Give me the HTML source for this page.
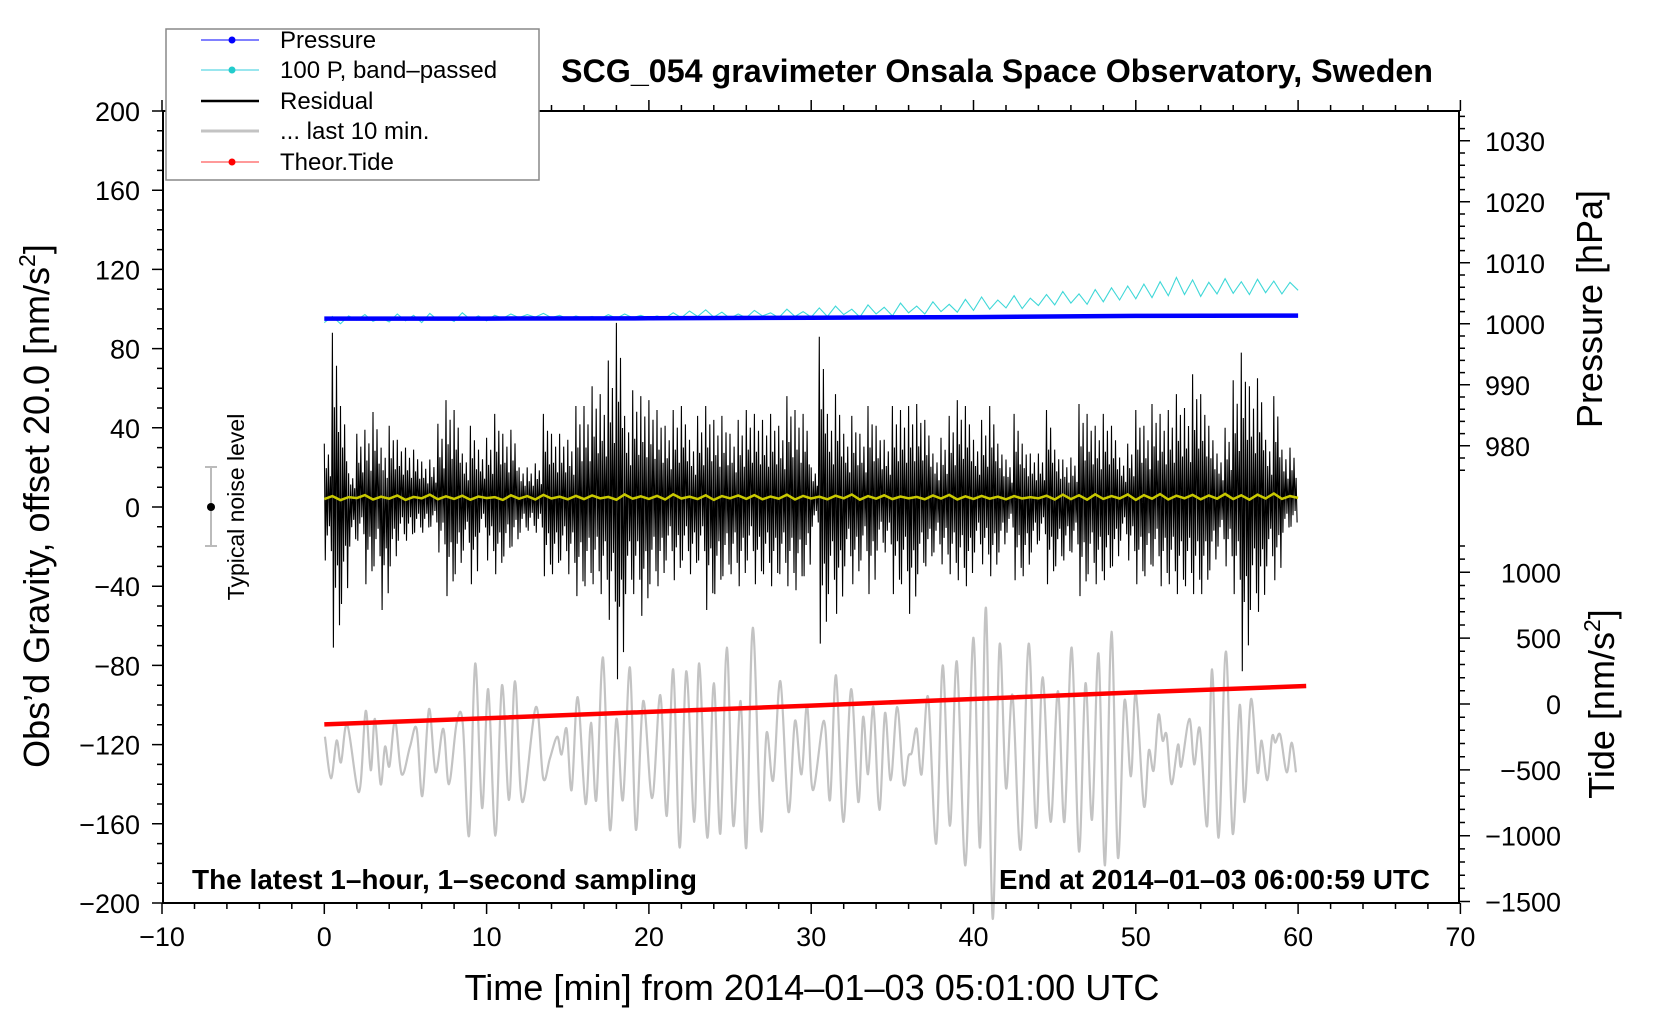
<!DOCTYPE html>
<html><head><meta charset="utf-8"><style>
html,body{margin:0;padding:0;background:#fff;}
svg{display:block;font-family:"Liberation Sans",sans-serif;}
</style></head><body>
<svg id="chart" width="1660" height="1020" viewBox="0 0 1660 1020" xmlns="http://www.w3.org/2000/svg">
<rect width="1660" height="1020" fill="#fff"/>
<g id="marks"></g>
<g id="axes"></g>
<text x="997" y="82" text-anchor="middle" font-size="32" font-weight="bold" textLength="872" lengthAdjust="spacingAndGlyphs">SCG_054 gravimeter Onsala Space Observatory, Sweden</text>
<text x="192" y="889" font-size="28" font-weight="bold" textLength="505" lengthAdjust="spacingAndGlyphs">The latest 1–hour, 1–second sampling</text>
<text x="1430" y="889" text-anchor="end" font-size="28" font-weight="bold" textLength="431" lengthAdjust="spacingAndGlyphs">End at 2014–01–03 06:00:59 UTC</text>
<text x="812" y="1000" text-anchor="middle" font-size="36" textLength="695" lengthAdjust="spacingAndGlyphs">Time [min] from 2014–01–03 05:01:00 UTC</text>
<text transform="translate(49,506) rotate(-90)" text-anchor="middle" font-size="36">Obs’d Gravity, offset 20.0 [nm/s<tspan font-size="23" dy="-14">2</tspan><tspan dy="14">]</tspan></text>
<text transform="translate(1602,309) rotate(-90)" text-anchor="middle" font-size="36">Pressure [hPa]</text>
<text transform="translate(1614,704) rotate(-90)" text-anchor="middle" font-size="36">Tide [nm/s<tspan font-size="23" dy="-14">2</tspan><tspan dy="14">]</tspan></text>
<g>
<line x1="211" y1="467" x2="211" y2="546" stroke="#bbb" stroke-width="2"/>
<line x1="205" y1="467" x2="217" y2="467" stroke="#bbb" stroke-width="2"/>
<line x1="205" y1="546" x2="217" y2="546" stroke="#bbb" stroke-width="2"/>
<circle cx="211" cy="507" r="4" fill="#000"/>
<text transform="translate(244,507) rotate(-90)" text-anchor="middle" font-size="23">Typical noise level</text>
</g>
<g>
<rect x="166" y="29" width="373" height="151" fill="#fff" stroke="#888" stroke-width="1.5"/>
<g><line x1="201" y1="40" x2="259" y2="40" stroke="#00f" stroke-width="1"/><circle cx="232" cy="40" r="3.5" fill="#00f"/><text x="280" y="48" font-size="24">Pressure</text></g>
<g><line x1="201" y1="70" x2="259" y2="70" stroke="#3cd" stroke-width="1"/><circle cx="232" cy="70" r="3.5" fill="#2cc"/><text x="280" y="78" font-size="24">100 P, band–passed</text></g>
<g><line x1="201" y1="101" x2="259" y2="101" stroke="#000" stroke-width="2.5"/><text x="280" y="109" font-size="24">Residual</text></g>
<g><line x1="201" y1="131" x2="259" y2="131" stroke="#c3c3c3" stroke-width="3"/><text x="280" y="139" font-size="24">... last 10 min.</text></g>
<g><line x1="201" y1="162" x2="259" y2="162" stroke="#f33" stroke-width="1"/><circle cx="232" cy="162" r="3.5" fill="#f00"/><text x="280" y="170" font-size="24">Theor.Tide</text></g>
</g>
</svg>
<script>
// ---- data ----
const resHi = [32,88,51,17,37,39,48,30,41,34,30,29,23,24,42,54,49,27,41,29,35,47,37,39,20,20,22,47,37,37,34,51,51,61,57,74,93,46,59,56,54,49,41,49,51,34,46,51,44,46,37,44,49,47,44,47,41,56,49,47,
20,86,47,57,37,46,37,51,41,34,51,49,51,52,44,27,35,46,54,51,34,44,51,32,24,47,32,27,27,49,29,24,25,52,47,41,
47,41,25,32,49,41,52,47,49,57,50,67,57,41,27,40,64,78,61,65,34,56,29,30];
const resLo = [-27,-71,-49,-20,-17,-39,-30,-52,-30,-17,-17,-13,-13,-10,-23,-45,-34,-22,-39,-13,-27,-34,-25,-20,-13,-12,-13,-35,-34,-27,-34,-45,-40,-39,-44,-57,-87,-44,-44,-55,-39,-40,-27,-37,-27,-34,-27,-52,-44,-35,-34,-40,-27,-39,-34,-40,-34,-40,-42,-35,
-10,-69,-44,-54,-30,-39,-27,-44,-22,-23,-44,-39,-54,-34,-30,-23,-29,-34,-37,-40,-23,-29,-35,-23,-13,-37,-35,-23,-17,-39,-30,-27,-23,-45,-34,-39,
-37,-30,-17,-27,-39,-35,-30,-40,-39,-44,-40,-44,-44,-32,-20,-30,-44,-83,-52,-53,-30,-37,-13,-10];
const yellow = [4,5.5,3.5,5,4.5,6,3.8,5.2,4.2,5.8,3.6,5.1,4.4,6.2,3.9,5.4,4.1,5.7,3.7,5.3,4.5,
5,3.6,5.9,4.2,5.5,3.8,6.1,4.3,5.2,3.9,5.6,4,5.8,4.4,5.1,3.7,6.3,4.2,5.4,4.1,
5.6,3.8,6.4,4.3,5.2,4,5.9,3.6,5.5,4.4,5.8,4.1,6,3.9,5.3,4.2,6.2,3.8,5.6,4.3,
5.2,3.9,5.7,4.4,6.3,3.7,5.5,4.2,5.9,4,5.3,4.4,5.1,3.9,5.8,4.3,6.1,3.8,5.4,4.1,
5.6,4.2,5.2,3.9,5.5,4.3,5,4.4,5.7,3.8,6.2,4,5.9,3.7,6.4,4.1,5.5,4.3,6.3,3.6,
6,4.2,6.5,3.8,5.7,4.4,6.1,3.9,5.8,4.2,6.6,4,5.9,3.7,6.2,4.3,6.8,4.1,5.5,4.6];
const cyan = [1000.2,1001.2,1000.0,1001.3,1000.6,1001.5,1000.4,1001.0,1000.3,1001.6,1000.5,1001.4,1000.2,1001.7,1000.6,1001.1,1000.4,1001.8,1000.7,1001.3,1000.5,
1001.4,1000.9,1001.6,1001.0,1001.5,1001.1,1001.7,1001.0,1001.4,1000.8,1001.3,1000.9,1001.2,1000.8,1001.5,1000.9,1001.6,1001.0,1001.4,1000.9,
1001.3,1000.9,1001.8,1001.0,1002.1,1001.2,1002.3,1001.1,1001.9,1000.9,1001.6,1001.0,1002.2,1001.3,1001.8,1001.0,1002.4,1001.2,1002.0,1001.1,
1002.6,1001.2,1002.9,1001.5,1002.4,1001.1,1003.1,1001.6,1002.7,1001.3,1003.4,1001.8,1002.9,1001.6,1003.6,1002.0,1003.2,1001.9,1004.0,1002.2,
1004.4,1002.4,1003.9,1002.6,1004.6,1002.5,1004.2,1003.0,1004.8,1003.1,1005.3,1003.4,1004.9,1003.2,1005.6,1003.6,1005.9,1003.9,1006.2,1004.1,
1006.5,1004.3,1006.9,1004.6,1007.6,1004.8,1007.2,1004.5,1006.8,1004.9,1007.4,1005.0,1006.9,1004.8,1007.3,1005.1,1007.0,1004.9,1006.8,1005.5];
const pressT = [0,10,20,30,40,50,60];
const pressV = [1000.85,1000.85,1000.9,1001.0,1001.1,1001.3,1001.35];
const tideT = [0,10,20,30,40,50,60.5];
const tideV = [-155,-108,-60,-12,38,88,137];
const grayT = [0.04,0.41,0.76,1.03,1.42,2.14,2.55,2.86,3.12,3.47,3.74,4.01,4.36,4.77,5.28,5.69,6.04,6.45,6.86,7.33,7.68,8.16,8.53,8.92,9.3,9.72,10.1,10.54,10.95,11.38,11.75,12.2,13.04,13.49,13.9,14.35,14.62,14.93,15.24,15.61,16.1,16.43,16.76,17.17,17.6,18.0,18.4,18.83,19.2,19.65,20.2,20.7,21.1,21.5,21.9,22.3,22.8,23.1,23.6,24.0,24.4,24.8,25.2,25.65,26.0,26.4,26.9,27.25,27.66,28.1,28.6,29.0,29.4,29.75,30.1,30.79,31.16,31.53,31.98,32.46,32.9,33.2,33.5,33.83,34.2,34.55,34.9,35.3,35.7,35.99,36.2,36.5,36.8,37.2,37.7,38.1,38.55,38.97,39.5,39.99,40.4,40.77,41.18,41.6,42.0,42.4,42.9,43.4,43.85,44.26,44.75,45.2,45.6,46.05,46.5,46.9,47.3,47.7,48.1,48.5,48.9,49.3,49.7,50.0,50.5,50.8,51.1,51.4,51.65,51.9,52.2,52.6,52.8,53.3,53.6,53.95,54.4,54.7,55.1,55.55,55.97,56.4,56.7,57.1,57.5,57.75,58.1,58.4,58.6,58.9,59.3,59.6,59.87];
const grayV = [-116,-137,-118,-129,-110,-144,-103,-133,-107,-140,-121,-131,-108,-135,-121,-112,-146,-102,-134,-112,-140,-109,-109,-166,-79,-152,-92,-166,-90,-148,-88,-149,-101,-137,-127,-116,-125,-112,-143,-96,-150,-109,-148,-76,-163,-107,-148,-81,-163,-98,-147,-95,-156,-82,-172,-83,-159,-79,-167,-89,-165,-71,-161,-98,-172,-61,-163,-114,-138,-88,-154,-108,-135,-100,-143,-108,-148,-85,-159,-92,-149,-106,-135,-101,-153,-104,-138,-101,-140,-126,-124,-112,-135,-96,-170,-80,-161,-78,-181,-66,-172,-51,-208,-70,-142,-95,-173,-69,-162,-86,-159,-93,-159,-71,-174,-89,-158,-74,-181,-63,-177,-98,-136,-94,-151,-123,-133,-105,-118,-115,-140,-120,-131,-107,-130,-112,-161,-82,-167,-73,-165,-100,-149,-97,-134,-118,-138,-116,-119,-115,-134,-119,-134];
const xTicks = [-10,0,10,20,30,40,50,60,70];
const yTicks = [200,160,120,80,40,0,-40,-80,-120,-160,-200];
const pTicks = [1030,1020,1010,1000,990,980];
const tTicks = [1000,500,0,-500,-1000,-1500];

// ---- scales ----
const X = t => 324.3 + t*16.23;
const Y = v => 507 - v*1.98;
const P = h => 140.8 + (1030-h)*6.1;
const T = v => 704 - v*0.1317;
const NS = 'http://www.w3.org/2000/svg';
const marks = document.getElementById('marks');
const axes = document.getElementById('axes');
function mk(tag, attrs, parent){const e=document.createElementNS(NS,tag);for(const k in attrs)e.setAttribute(k,attrs[k]);parent.appendChild(e);return e;}
const f = n => n.toFixed(1);

// gray last 10 min (smooth catmull-rom)
(function(){
  const pts = grayT.map((t,i)=>[X(t),Y(grayV[i])]);
  let d = 'M'+f(pts[0][0])+','+f(pts[0][1]);
  for(let i=0;i<pts.length-1;i++){
    const p0=pts[Math.max(0,i-1)],p1=pts[i],p2=pts[i+1],p3=pts[Math.min(pts.length-1,i+2)];
    const c1=[p1[0]+(p2[0]-p0[0])/6,p1[1]+(p2[1]-p0[1])/6];
    const c2=[p2[0]-(p3[0]-p1[0])/6,p2[1]-(p3[1]-p1[1])/6];
    d+='C'+f(c1[0])+','+f(c1[1])+' '+f(c2[0])+','+f(c2[1])+' '+f(p2[0])+','+f(p2[1]);
  }
  const el = mk('path',{d:d,fill:'none',stroke:'#c3c3c3','stroke-width':2.2},marks);
  
  
})();

// red tide
(function(){
  const d = tideT.map((t,i)=>(i?'L':'M')+f(X(t))+','+f(T(tideV[i]))).join('');
  const el = mk('path',{d:d,fill:'none',stroke:'#f00','stroke-width':4.5},marks);
  
  
})();

// residual
(function(){
  const c = 4.5;
  const fr = [[0,1],[0.0625,1],[0.125,0.55],[0.1875,0.6],[0.25,0.8],[0.3125,0.45],[0.375,0.4],[0.4375,0.85]];
  let d='';
  resHi.forEach((hi,i)=>{
    const lo=resLo[i], t0=i*0.5;
    fr.forEach((q,j)=>{
      const vv = (j%2===0) ? c+(hi-c)*q[1] : c+(lo-c)*q[1];
      d += (d?'L':'M')+f(X(t0+q[0]))+','+f(Y(vv));
    });
  });
  const el = mk('path',{d:d,fill:'none',stroke:'#000','stroke-width':1.1},marks);
  
  
})();

// yellow smoothed residual
(function(){
  const d = yellow.map((v,i)=>(i?'L':'M')+f(X(i*0.5))+','+f(Y(v))).join('');
  const el = mk('path',{d:d,fill:'none',stroke:'#c8c800','stroke-width':2.5},marks);
  
  
})();

// cyan band-passed
(function(){
  const d = cyan.map((v,i)=>(i?'L':'M')+f(X(i*0.5))+','+f(P(v))).join('');
  const el = mk('path',{d:d,fill:'none',stroke:'#40d8d8','stroke-width':1.1},marks);
  
  
})();

// blue pressure
(function(){
  const d = pressT.map((t,i)=>(i?'L':'M')+f(X(t))+','+f(P(pressV[i]))).join('');
  const el = mk('path',{d:d,fill:'none',stroke:'#00f','stroke-width':4.5},marks);
  
  
})();

// ---- axes ----
const L=163, R=1459, TOP=111, BOT=903;
const frame = mk('path',{d:`M${L},${TOP}L${R},${TOP}L${R},${BOT}L${L},${BOT}Z`,fill:'none',stroke:'#000','stroke-width':2},axes);


let td='';
for(let t=-10;t<=70;t+=2){const x=X(t);const len=(t%10===0)?11:6;td+=`M${f(x)},${BOT}L${f(x)},${BOT+len}M${f(x)},${TOP}L${f(x)},${TOP-len}`;}
for(let v=-200;v<=200;v+=10){const y=Y(v);const len=(v%40===0)?11:6;td+=`M${L},${f(y)}L${L-len},${f(y)}`;}
for(let h=976;h<=1034;h+=2){const y=P(h);const len=(h%10===0)?11:6;td+=`M${R},${f(y)}L${R+len},${f(y)}`;}
for(let v=-1500;v<=1200;v+=100){const y=T(v);const len=(v%500===0)?11:6;td+=`M${R},${f(y)}L${R+len},${f(y)}`;}
const tk = mk('path',{d:td,fill:'none',stroke:'#000','stroke-width':1.5},axes);


xTicks.forEach(t=>{
  const e=mk('text',{x:f(X(t)),y:946,'text-anchor':'middle','font-size':27},axes);e.textContent=String(t).replace('-','−');
  
  
});
yTicks.forEach(v=>{
  const e=mk('text',{x:140,y:f(Y(v)+10),'text-anchor':'end','font-size':27},axes);e.textContent=String(v).replace('-','−');
  
  
});
pTicks.forEach(h=>{
  const e=mk('text',{x:1485,y:f(P(h)+10),'font-size':27},axes);e.textContent=String(h);
  
  
});
tTicks.forEach(v=>{
  const e=mk('text',{x:1561,y:f(T(v)+10),'text-anchor':'end','font-size':27},axes);e.textContent=String(v).replace('-','−');
  
  
});
</script>
</body></html>
